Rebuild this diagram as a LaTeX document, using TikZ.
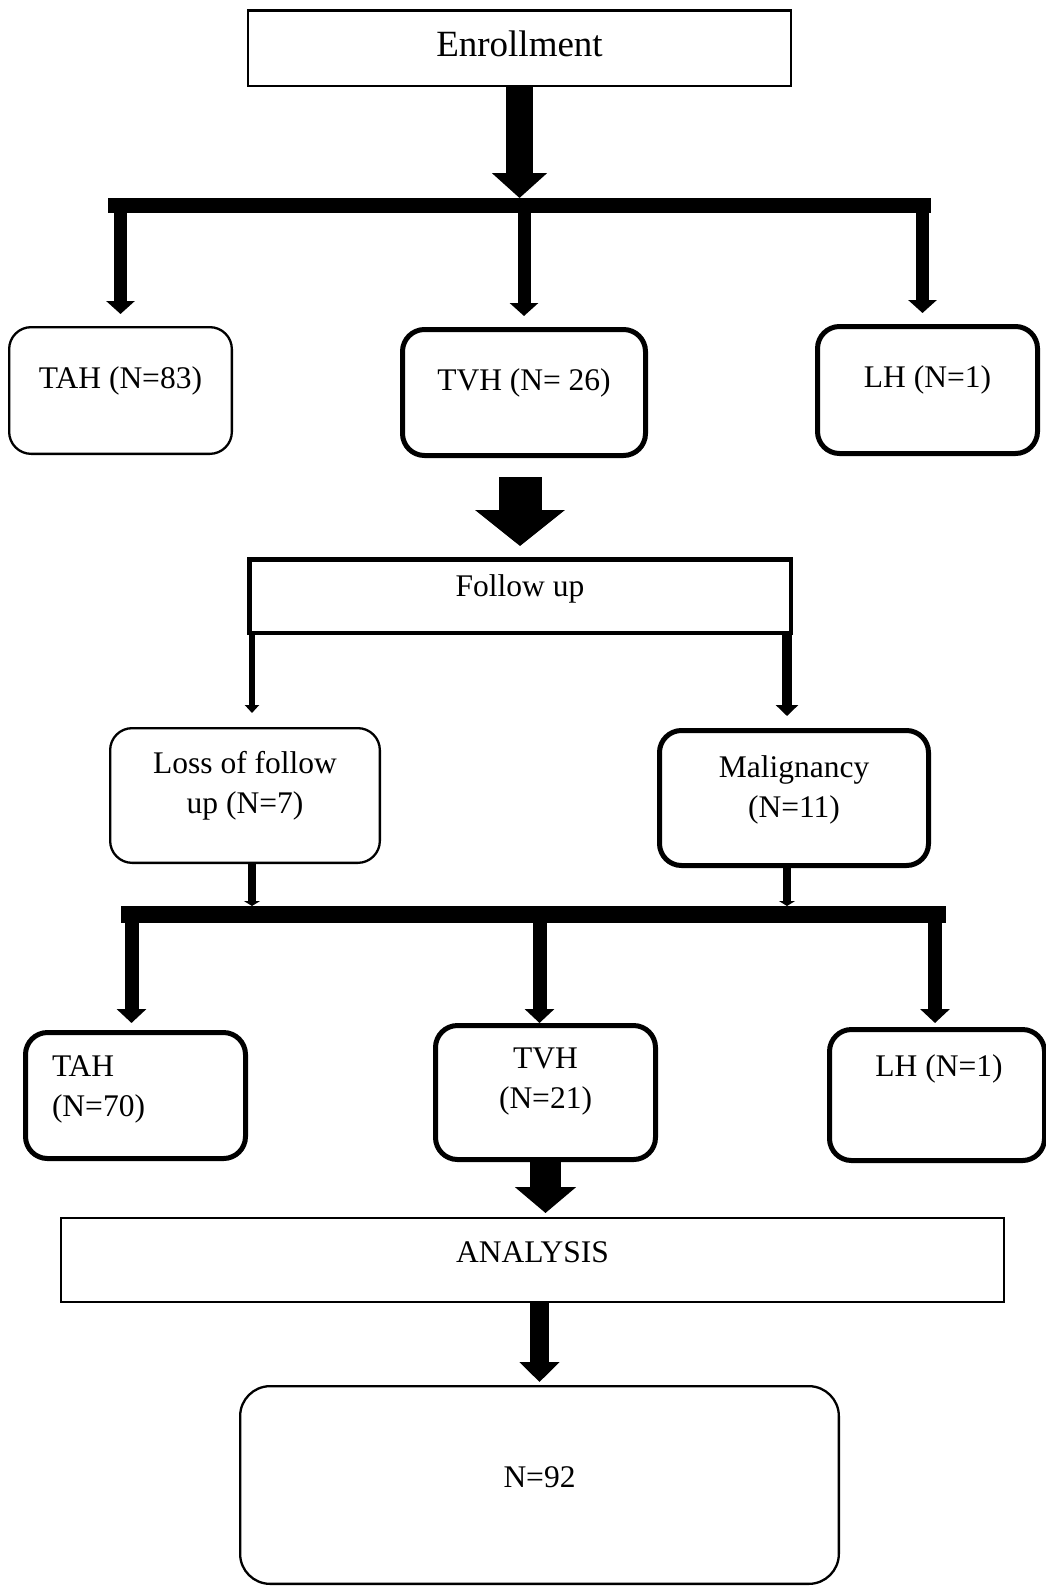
\documentclass[tikz,border=0pt]{standalone}
\usepackage{fontspec}
\setmainfont{Liberation Serif}
\usetikzlibrary{arrows.meta}
\tikzset{sqbox/.style={draw, line width=2.3pt, inner sep=0pt}}
\tikzset{rbox/.style={draw, rounded corners=22pt, line width=2.3pt, inner sep=0pt}}
\tikzset{rboxb/.style={rbox, line width=5pt}}
\tikzset{txt/.style={font=\fontsize{31.5}{40}\selectfont, inner sep=0pt}}
\tikzset{fat/.style n args={3}{line width=#1, -{Triangle[width=#2,length=#3]}}}

\begin{document}
\begin{tikzpicture}[x=1pt, y=-1pt]
\useasboundingbox (0,0) rectangle (1045,1587);

\node[sqbox, minimum width=542.7pt, minimum height=75.7pt,
  label={[txt, font=\fontsize{37}{44}\selectfont, yshift=4pt]center:Enrollment}] (enroll) at (519.5,48.3) {};

\node[rbox, minimum width=222.7pt, minimum height=126.7pt,
  label={[txt, yshift=10pt]center:TAH (N=83)}] (tah1) at (120.5,390.5) {};
\node[rboxb, minimum width=243pt, minimum height=126pt,
  label={[txt, yshift=9.5pt]center:TVH (N= 26)}] (tvh1) at (524,392.5) {};
\node[rboxb, minimum width=220pt, minimum height=127pt,
  label={[txt, yshift=10pt]center:LH (N=1)}] (lh1) at (927.5,390) {};

\node[sqbox, line width=4.5pt, minimum width=541.5pt, minimum height=73.5pt,
  label={[txt, yshift=7pt]center:Follow up}] (follow) at (520,596) {};

\node[rbox, minimum width=269.7pt, minimum height=134.7pt,
  label={[txt, align=center, yshift=9.5pt]center:Loss of follow\\up (N=7)}] (loss) at (245,795.5) {};
\node[rboxb, minimum width=269pt, minimum height=135pt,
  label={[txt, align=center, yshift=8pt]center:Malignancy\\(N=11)}] (malig) at (794,798) {};

\node[rboxb, minimum width=220pt, minimum height=126pt,
  label={[txt, align=left, xshift=-37pt, yshift=6.5pt]center:TAH\\(N=70)}] (tah2) at (135.5,1095.5) {};
\node[rboxb, minimum width=220pt, minimum height=134pt,
  label={[txt, align=center, yshift=10.5pt]center:TVH\\(N=21)}] (tvh2) at (545.5,1092.5) {};
\node[rboxb, minimum width=215pt, minimum height=131pt,
  label={[txt, xshift=2pt, yshift=26pt]center:LH (N=1)}] (lh2) at (937,1095) {};

\node[sqbox, minimum width=942.7pt, minimum height=83.7pt,
  label={[txt, yshift=8pt]center:ANALYSIS}] (analysis) at (532.5,1260) {};

\node[rbox, rounded corners=30pt, minimum width=598.7pt, minimum height=197.7pt,
  label={[txt, yshift=8pt]center:N=92}] (total) at (539.5,1485) {};

\coordinate (bar1w) at (108,205.5);
\coordinate (bar1e) at (931,205.5);
\coordinate (bar2w) at (121,914.5);
\coordinate (bar2e) at (946,914.5);

\draw[fat={27pt}{54pt}{25pt}, shorten >=7.5pt] (enroll.south) -- (enroll.south |- bar1w);
\draw[line width=15pt] (bar1w) -- (bar1e);
\draw[fat={13pt}{28pt}{13pt}, shorten >=12pt] (tah1.north |- bar1w) -- (tah1.north);
\draw[fat={13pt}{28pt}{13pt}, shorten >=11pt] (tvh1.north |- bar1w) -- (tvh1.north);
\draw[fat={13pt}{28pt}{13pt}, shorten >=11pt] ([xshift=-5pt]lh1.north |- bar1w) -- ([xshift=-5pt]lh1.north);

\draw[fat={43pt}{88pt}{36pt}, shorten <=19pt, shorten >=11pt] (follow.north |- tvh1.south) -- (follow.north);

\draw[fat={6pt}{14pt}{8pt}, shorten >=14pt] ([xshift=7pt]loss.north |- follow.south) -- ([xshift=7pt]loss.north);
\draw[fat={10pt}{22pt}{11pt}, shorten >=12pt] ([xshift=-7pt]malig.north |- follow.south) -- ([xshift=-7pt]malig.north);

\draw[fat={8pt}{16pt}{5pt}, shorten >=8.5pt] ([xshift=7pt]loss.south) -- ([xshift=7pt]loss.south |- bar2w);
\draw[fat={8pt}{16pt}{5pt}, shorten >=8.5pt] ([xshift=-7pt]malig.south) -- ([xshift=-7pt]malig.south |- bar2w);
\draw[line width=17pt] (bar2w) -- (bar2e);
\draw[fat={14pt}{29pt}{14pt}, shorten >=7pt] ([xshift=-4pt]tah2.north |- bar2w) -- ([xshift=-4pt]tah2.north);
\draw[fat={14pt}{29pt}{14pt}] ([xshift=-6pt]tvh2.north |- bar2w) -- ([xshift=-6pt]tvh2.north);
\draw[fat={14pt}{29pt}{14pt}, shorten >=4pt] ([xshift=-2pt]lh2.north |- bar2w) -- ([xshift=-2pt]lh2.north);

\draw[fat={31pt}{60pt}{26pt}, shorten >=4pt] (tvh2.south) -- (tvh2.south |- analysis.north);
\draw[fat={19pt}{39pt}{20pt}, shorten >=3pt] (total.north |- analysis.south) -- (total.north);
\end{tikzpicture}
\end{document}
